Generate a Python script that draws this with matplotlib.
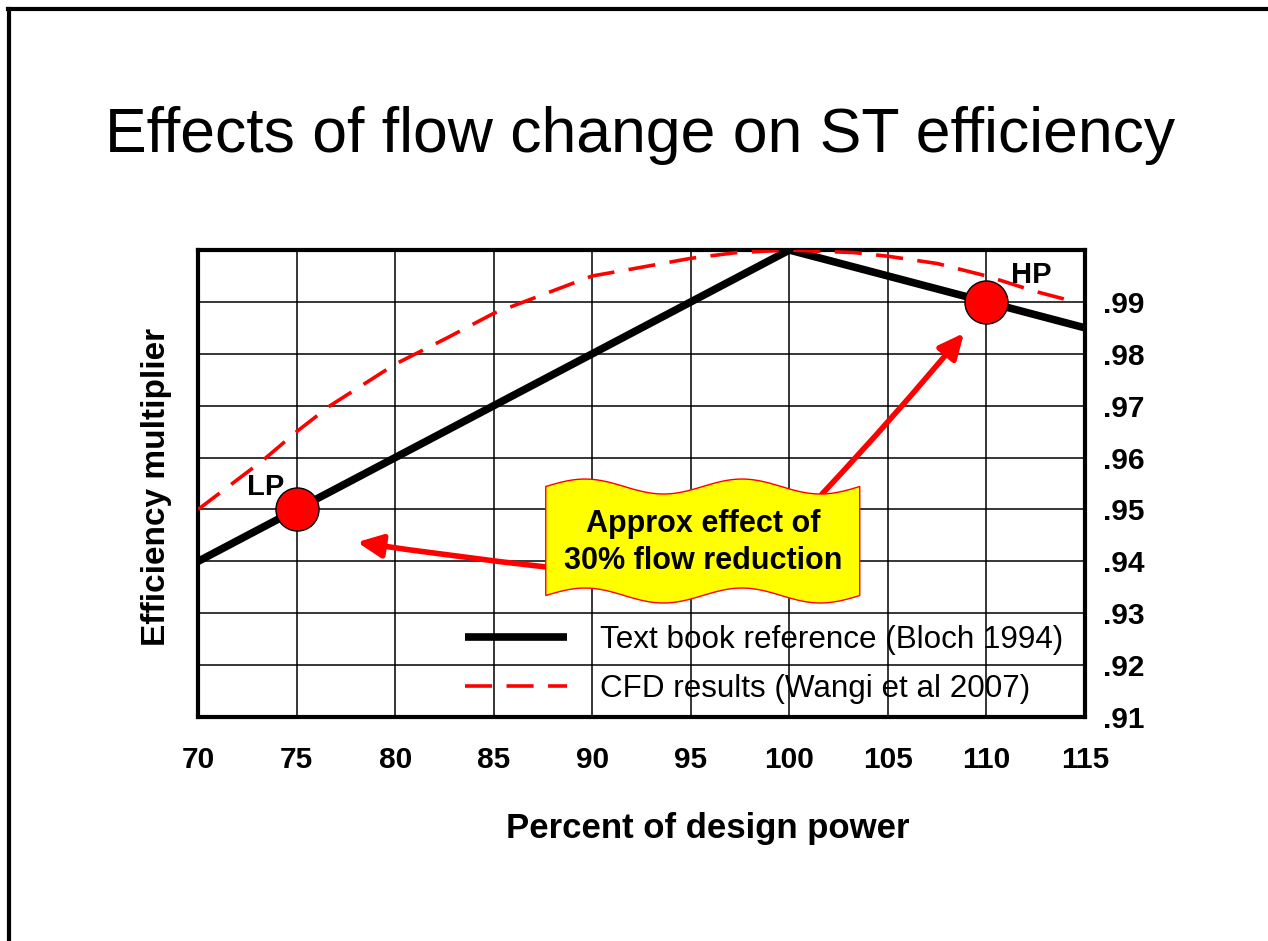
import matplotlib
matplotlib.use("Agg")
import matplotlib.pyplot as plt
from matplotlib.lines import Line2D
from matplotlib.patches import Polygon
import numpy as np

plt.rcParams['font.family'] = ['Liberation Sans', 'DejaVu Sans']

# text book reference (Bloch 1994)
bloch_x = [70, 100, 115]
bloch_y = [0.940, 1.000, 0.985]

# CFD results (Wangi et al 2007)
cfd_x = [70, 73.3, 75, 76.7, 80, 82.6, 85, 87.7, 90, 91.8, 95, 97.3,
         100, 103.3, 105, 107.5, 110, 112.5, 114.5]
cfd_y = [0.950, 0.9595, 0.965, 0.970, 0.978, 0.983, 0.9878, 0.9917, 0.995,
         0.9962, 0.9984, 0.9995, 1.000, 0.9995, 0.9988, 0.9974, 0.995,
         0.992, 0.990]

# operating points
pt_names = ["LP", "HP"]
pt_x = [75, 110]
pt_y = [0.95, 0.99]

x_ticks = [70, 75, 80, 85, 90, 95, 100, 105, 110, 115]
y_ticks = [0.91, 0.92, 0.93, 0.94, 0.95, 0.96, 0.97, 0.98, 0.99]
y_ticklabels = [".91", ".92", ".93", ".94", ".95", ".96", ".97", ".98", ".99"]

fig = plt.figure(figsize=(12.68, 9.41), dpi=100)
ax = fig.add_axes([0.1562, 0.2380, 0.6995, 0.4963])

ax.plot(bloch_x, bloch_y, color="black", lw=5.5, solid_capstyle="butt",
        label="Text book reference (Bloch 1994)", zorder=3)
ax.plot(cfd_x, cfd_y, color="red", lw=2.6, dashes=(7.5, 4),
        label="CFD results (Wangi et al 2007)", zorder=3)
ax.plot(pt_x, pt_y, "o", ms=31, mfc="red", mec="black", mew=1, zorder=4)

# point labels
ax.text(73.45, 0.9543, pt_names[0], fontsize=21, fontweight="bold",
        ha="center", va="center", zorder=5)
ax.text(112.26, 0.9952, pt_names[1], fontsize=21, fontweight="bold",
        ha="center", va="center", zorder=5)

ax.set_xlim(70, 115)
ax.set_ylim(0.91, 1.0)
ax.set_xticks(x_ticks)
ax.set_xticklabels([str(v) for v in x_ticks])
ax.set_yticks(y_ticks)
ax.set_yticklabels(y_ticklabels)
ax.yaxis.tick_right()
ax.tick_params(axis="x", length=0, pad=21, labelsize=21.5)
ax.tick_params(axis="y", length=0, pad=13, labelsize=21.5)
for lab in ax.get_xticklabels() + ax.get_yticklabels():
    lab.set_fontweight("bold")
ax.grid(True, color="black", lw=1.1)
for s in ax.spines.values():
    s.set_linewidth(3)

# wavy callout banner
t = np.linspace(0, 1, 200)
bx = 0.392 + (0.746 - 0.392) * t
wave = 0.016 * np.sin(2 * np.pi * 2 * t)
top = 0.4936 + wave
bot = 0.2602 + wave
verts = np.vstack([np.column_stack([bx, top]), np.column_stack([bx[::-1], bot[::-1]])])
ax.add_patch(Polygon(verts, closed=True, transform=ax.transAxes, facecolor="#FFFF00",
                     edgecolor="red", lw=1, zorder=6))
ax.text(0.5693, 0.3747, "Approx effect of\n30% flow reduction", transform=ax.transAxes,
        fontsize=22, fontweight="bold", ha="center", va="center", linespacing=1.3,
        zorder=7)

# arrows from the banner to the points
ap = dict(arrowstyle="-|>,head_length=0.75,head_width=0.35", color="red", lw=4,
          mutation_scale=20, shrinkA=0, shrinkB=0)
ax.annotate("", xy=(78.07, 0.9437), xytext=(87.7, 0.9389),
            arrowprops=dict(ap, connectionstyle="arc3,rad=-0.01"), zorder=5)
ax.annotate("", xy=(108.86, 0.9840), xytext=(101.66, 0.9530),
            arrowprops=dict(ap, connectionstyle="arc3,rad=0.015"), zorder=5)

ax.legend(loc="upper left", bbox_to_anchor=(0.301, 0.198), frameon=False,
          fontsize=22.6, handlelength=3.25, handletextpad=1.05, labelspacing=0.62,
          borderpad=0, borderaxespad=0)

fig.text(0.5047, 0.8385, "Effects of flow change on ST efficiency", fontsize=45,
         ha="center", va="baseline")
fig.text(0.5584, 0.1095, "Percent of design power", fontsize=25, fontweight="bold",
         ha="center", va="baseline")
fig.text(0.1238, 0.4825, "Efficiency multiplier", fontsize=24, fontweight="bold",
         ha="center", va="center", rotation=90)

# slide border
fig.add_artist(Line2D([8 / 1268, 1], [1 - 9 / 941, 1 - 9 / 941],
                      transform=fig.transFigure, color="black", lw=3))
fig.add_artist(Line2D([9 / 1268, 9 / 1268], [0, 1 - 9 / 941],
                      transform=fig.transFigure, color="black", lw=3))

fig.savefig("out.png", dpi=100)
